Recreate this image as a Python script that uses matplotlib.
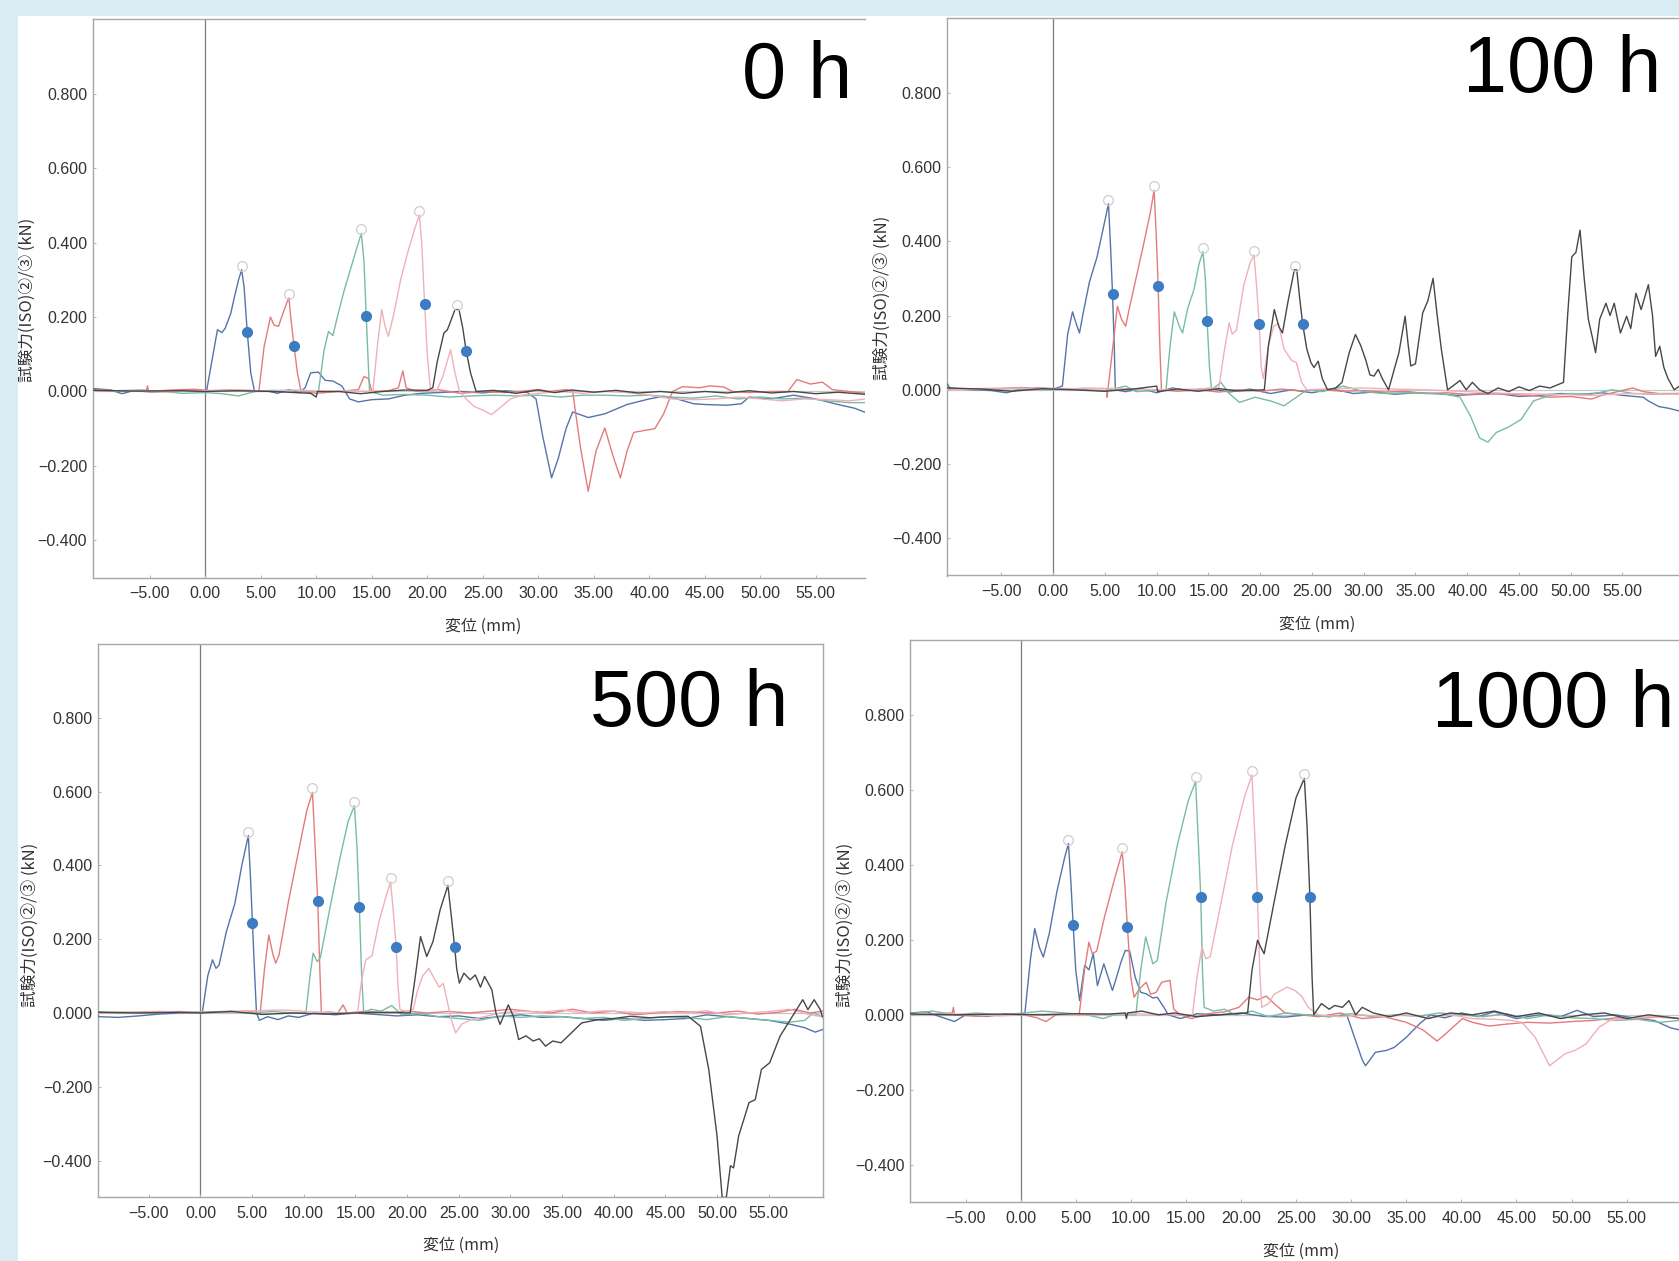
import matplotlib
matplotlib.use("Agg")
import matplotlib.pyplot as plt
import matplotlib.transforms as mtransforms
from matplotlib.patches import Rectangle
from matplotlib.ticker import FuncFormatter

# ---------------- data ----------------
SERIES = ["blue", "red", "green", "pink", "black"]
PANEL_TITLES = ["0 h", "100 h", "500 h", "1000 h"]
X_TICKS = [-5, 0, 5, 10, 15, 20, 25, 30, 35, 40, 45, 50, 55]
Y_TICKS = [-0.4, -0.2, 0.0, 0.2, 0.4, 0.6, 0.8]
X_LABEL = "変位 (mm)"
Y_LABEL = "試験力(ISO)②/③ (kN)"

# ---- 0 h ----
H0_BLUE = [(-10.2,0.008),(-8.5,0.004),(-7.5,-0.006),(-6.5,0.002),(-4.5,-0.002),(-2.5,0.003),(-1,0.0),(0.1,-0.002),
           (1.1,0.166),(1.5,0.158),(1.8,0.17),(2.3,0.21),(2.6,0.25),(3.0,0.3),(3.28,0.327),(3.5,0.28),(3.78,0.161),
           (4.1,0.05),(4.44,0.0),(5.5,0.002),(6.5,-0.005),(7.5,0.005),(8.5,-0.003),(9.0,0.01),(9.5,0.05),(10.2,0.052),
           (10.8,0.03),(11.5,0.028),(12.3,0.015),(13.0,-0.02),(13.8,-0.028),(15.0,-0.022),(16.5,-0.02),(18,-0.01),
           (19.5,-0.005),(21,-0.003),(23,0.0),(25,-0.004),(27,0.002),(29,-0.002),(29.8,-0.02),(30.4,-0.12),
           (31.2,-0.232),(31.8,-0.18),(32.5,-0.1),(33.1,-0.055),(34.5,-0.07),(36,-0.06),(38,-0.035),(40,-0.02),
           (41.3,-0.013),(42.5,-0.02),(44,-0.033),(45,-0.035),(47,-0.037),(48.3,-0.033),(49,-0.015),(51,-0.02),
           (53,-0.01),(55,-0.02),(57,-0.035),(58.5,-0.045),(59.6,-0.058)]
H0_RED = [(-10.2,0.005),(-8,0.002),(-5.3,0.003),(-5.2,0.015),(-5.1,0.0),(-3,0.004),(-1,0.006),(0.5,0.002),(2,0.004),
          (4,0.003),(4.83,0.0),(5.3,0.12),(5.87,0.2),(6.2,0.178),(6.6,0.175),(7.0,0.21),(7.46,0.247),(7.54,0.251),
          (7.7,0.2),(8.0,0.121),(8.3,0.05),(8.63,0.0),(10,-0.005),(12,0.0),(13.8,0.005),(14.3,0.04),(14.7,0.035),
          (15.0,0.0),(16.5,0.002),(17.4,0.01),(17.8,0.055),(18.1,0.01),(19,0.0),(21,0.005),(23,-0.005),(25,0.0),
          (27,-0.003),(29,0.002),(30,0.005),(31,0.0),(32.5,0.005),(33.1,0.0),(33.8,-0.15),(34.5,-0.268),(35.2,-0.16),
          (36.0,-0.098),(36.7,-0.17),(37.4,-0.232),(38.0,-0.16),(38.6,-0.11),(39.5,-0.105),(40.5,-0.1),(41.3,-0.06),
          (42.1,0.0),(43,0.013),(44.5,0.01),(45.5,0.015),(46.7,0.012),(47.5,0.0),(49,-0.003),(51,0.0),(52.5,0.0),
          (53.3,0.032),(54.5,0.02),(55.6,0.025),(56.5,0.005),(58,0.0),(59.6,-0.005)]
H0_GREEN = [(-10.2,0.002),(-8,0.0),(-6,0.004),(-4,0.0),(-2,-0.005),(0,-0.003),(1.5,-0.006),(3,-0.012),(4.5,0.0),
            (6,0.003),(8,0.002),(10.2,0.0),(10.7,0.11),(11.1,0.161),(11.5,0.15),(11.9,0.2),(12.5,0.27),(13.2,0.34),
            (13.7,0.39),(14.06,0.425),(14.3,0.35),(14.5,0.204),(14.65,0.1),(14.8,0.0),(16,-0.01),(18,-0.008),
            (20,-0.01),(22,-0.015),(24,-0.012),(26,-0.01),(28,-0.012),(30,-0.01),(32,-0.015),(34,-0.01),(36,-0.01),
            (38,-0.012),(40,-0.01),(42,-0.015),(44,-0.018),(46,-0.012),(48,-0.02),(50,-0.015),(52,-0.02),
            (54,-0.018),(56,-0.025),(58,-0.03),(59.6,-0.03)]
H0_PINK = [(-10.2,0.0),(-7,0.003),(-4,-0.002),(-1,0.002),(2,0.003),(5,0.0),(8,0.004),(11,0.0),(13,0.002),(15.1,0.0),
           (15.5,0.12),(15.9,0.22),(16.2,0.175),(16.5,0.148),(17.0,0.21),(17.6,0.3),(18.3,0.38),(18.9,0.44),
           (19.29,0.474),(19.5,0.4),(19.76,0.236),(20.0,0.1),(20.3,0.0),(20.9,0.005),(21.4,0.04),(22.1,0.112),
           (22.5,0.05),(22.9,0.0),(23.5,-0.02),(24.2,-0.04),(25.0,-0.05),(25.8,-0.062),(26.5,-0.045),(27.5,-0.02),
           (28.5,-0.01),(30,-0.005),(32,0.0),(34,-0.005),(36,0.0),(38,-0.003),(40,-0.01),(42,-0.02),(44,-0.022),
           (46,-0.02),(48,-0.015),(50,-0.02),(52,-0.025),(54,-0.02),(56,-0.022),(58,-0.025),(59.6,-0.02)]
H0_BLACK = [(-10.2,0.003),(-6,0.001),(-2,0.002),(0,0.0),(3,0.002),(6,0.0),(9.5,-0.005),(10,-0.015),(10.1,0.0),
            (12,0.0),(14,-0.006),(16,0.0),(18,0.004),(20,0.003),(20.5,0.01),(20.9,0.08),(21.5,0.157),(21.8,0.165),
            (22.0,0.18),(22.5,0.22),(22.86,0.22),(23.2,0.17),(23.5,0.11),(23.9,0.05),(24.4,0.0),(26,0.003),
            (28,-0.005),(30,0.004),(31.5,-0.003),(33,0.004),(35,-0.002),(37,0.003),(39,-0.004),(41,0.0),(43,-0.005),
            (45,0.0),(47,-0.004),(49,0.002),(51,-0.004),(53,0.0),(55,-0.006),(57,-0.002),(59.6,-0.008)]
H0_PEAKS = [(3.28,0.327),(7.54,0.251),(14.06,0.425),(19.29,0.474),(22.7,0.222)]
H0_DOTS = [(3.78,0.161),(8.0,0.121),(14.5,0.204),(19.76,0.236),(23.5,0.110)]

# ---- 100 h ----
H100_BLUE = [(-10.2,0.015),(-10.0,0.005),(-8,0.0),(-6,-0.002),(-4.5,-0.008),(-3,0.003),(-1.5,0.006),(0,0.002),
             (0.89,0.01),(1.4,0.15),(1.87,0.21),(2.2,0.18),(2.54,0.153),(2.9,0.207),(3.5,0.29),(4.24,0.358),
             (4.8,0.43),(5.34,0.501),(5.55,0.38),(5.73,0.259),(5.9,0.12),(6.0,0.0),(7,-0.005),(8.5,0.003),(10,-0.008),
             (11.5,0.005),(13,-0.002),(15,0.004),(17,-0.006),(19,0.002),(21,-0.01),(23,0.0),(25,-0.008),(27,0.002),
             (29,-0.01),(31,-0.006),(33,-0.012),(35,-0.008),(37,-0.01),(39,-0.015),(41,-0.012),(43,-0.01),
             (45,-0.018),(47,-0.015),(49,-0.01),(51,-0.012),(53,-0.008),(55,-0.015),(57,-0.02),(57.5,-0.03),
             (58.5,-0.045),(59.5,-0.05),(60.5,-0.057)]
H100_RED = [(-10.2,0.0),(-8,0.003),(-5.2,0.004),(-3,0.006),(-1,0.004),(1,0.002),(3,0.004),(5.2,0.003),(5.2,-0.02),
            (5.7,0.1),(6.2,0.225),(6.6,0.19),(7.0,0.171),(7.4,0.225),(8.0,0.3),(8.8,0.4),(9.4,0.48),(9.75,0.537),
            (9.95,0.42),(10.14,0.28),(10.3,0.12),(10.46,0.0),(12,-0.004),(14,0.0),(16,-0.006),(18,0.0),(20,-0.004),
            (22,0.002),(24,-0.003),(26,0.0),(28,-0.004),(30,-0.002),(32,-0.006),(34,-0.004),(36,-0.01),(38,-0.008),
            (40,-0.012),(42,-0.01),(44,-0.012),(46,-0.015),(48,-0.02),(50,-0.018),(52,-0.025),(53,-0.015),
            (54.5,-0.005),(56,0.005),(57,-0.005),(58.5,-0.01),(60.5,-0.01)]
H100_GREEN = [(-10.2,0.002),(-7,0.0),(-4,0.003),(-1,0.0),(2,0.002),(5,-0.003),(7,0.01),(8,-0.005),(10.9,0.0),
              (11.3,0.12),(11.7,0.21),(12.2,0.17),(12.5,0.153),(13.0,0.22),(13.6,0.27),(14.1,0.34),(14.47,0.372),
              (14.7,0.3),(14.87,0.186),(15.1,0.06),(15.3,0.0),(16.2,0.02),(17,-0.01),(18,-0.034),(19.5,-0.02),
              (21,-0.03),(22.3,-0.043),(23.5,-0.02),(24.5,0.0),(26,-0.005),(28,0.01),(30,-0.005),(32,-0.01),
              (34,-0.008),(36,-0.01),(38,-0.012),(39.3,-0.02),(40.3,-0.07),(41.2,-0.13),(42.0,-0.141),(42.8,-0.115),
              (44,-0.1),(45.2,-0.08),(46.4,-0.03),(48,-0.015),(50,-0.01),(52,-0.012),(54,0.0),(56,-0.01),
              (58,-0.012),(60.5,-0.01)]
H100_PINK = [(-10.2,0.0),(-6,0.002),(-2,0.005),(2,0.003),(6,0.004),(10,0.0),(14,0.002),(16.0,0.005),(16.5,0.1),
             (17.0,0.18),(17.3,0.15),(17.7,0.16),(18.4,0.28),(19.0,0.34),(19.4,0.363),(19.65,0.28),(19.9,0.178),
             (20.1,0.06),(20.3,0.03),(20.8,0.12),(21.3,0.17),(21.76,0.18),(22.3,0.11),(23.0,0.08),(23.5,0.073),
             (24.0,0.02),(24.5,0.0),(27,0.003),(30,0.005),(33,0.002),(36,0.0),(40,-0.005),(44,-0.01),(48,-0.012),
             (52,-0.015),(56,-0.01),(60.5,-0.012)]
H100_BLACK = [(-10.2,0.005),(-7,0.002),(-4,-0.004),(-1,0.003),(2,0.0),(5,-0.004),(8,0.003),(10,0.01),(10.1,-0.005),
              (12,0.002),(14,-0.004),(16,0.003),(18,-0.003),(20.4,0.0),(20.8,0.12),(21.36,0.216),(21.8,0.17),
              (22.15,0.153),(22.7,0.24),(23.3,0.323),(23.53,0.323),(23.8,0.25),(24.1,0.178),(24.5,0.11),(24.9,0.073),
              (25.2,0.06),(25.6,0.077),(26.0,0.03),(26.5,0.0),(27.3,0.005),(27.9,0.02),(28.6,0.1),(29.2,0.149),
              (29.7,0.12),(30.2,0.08),(30.6,0.04),(31.0,0.037),(31.4,0.055),(31.8,0.03),(32.4,0.0),(33.0,0.06),
              (33.4,0.1),(34.0,0.198),(34.3,0.12),(34.55,0.064),(35.0,0.07),(35.7,0.207),(36.2,0.24),(36.7,0.3),
              (37.1,0.2),(37.5,0.109),(38.1,0.0),(38.6,0.01),(39.3,0.025),(39.9,0.0),(40.5,0.02),(41.2,0.0),
              (42,-0.01),(43,0.005),(44,-0.005),(45,0.008),(46,-0.002),(47,0.01),(48,0.005),(49.3,0.02),(49.7,0.2),
              (50.1,0.358),(50.5,0.37),(50.9,0.43),(51.3,0.3),(51.7,0.19),(52.1,0.14),(52.4,0.1),(52.8,0.19),
              (53.4,0.233),(53.8,0.2),(54.2,0.233),(54.8,0.153),(55.4,0.198),(55.8,0.165),(56.3,0.26),(56.8,0.216),
              (57.5,0.283),(57.9,0.2),(58.2,0.09),(58.6,0.117),(59.0,0.06),(59.4,0.03),(60,0.0),(60.5,0.01)]
H100_PEAKS = [(5.34,0.501),(9.75,0.537),(14.47,0.372),(19.4,0.363),(23.4,0.323)]
H100_DOTS = [(5.73,0.259),(10.14,0.280),(14.87,0.186),(19.9,0.178),(24.1,0.178)]

# ---- 500 h ----
H500_BLUE = [(-10,0.01),(-9.9,-0.01),(-8,-0.012),(-6,-0.008),(-4,-0.003),(-2,0.0),(0,0.002),(0.17,0.0),(0.7,0.1),
             (1.16,0.144),(1.5,0.121),(1.8,0.13),(2.5,0.22),(3.33,0.297),(4.0,0.4),(4.63,0.481),(4.85,0.36),
             (5.03,0.243),(5.25,0.1),(5.42,0.0),(5.7,-0.02),(6.5,-0.01),(7.5,-0.018),(8.5,-0.008),(9.5,-0.012),
             (11,0.0),(13,-0.005),(15,0.0),(17,-0.004),(19,-0.008),(21,-0.005),(23,-0.01),(25,-0.008),(27,-0.015),
             (29,-0.01),(31,-0.005),(33,-0.012),(35,-0.01),(37,-0.015),(39,-0.02),(41,-0.015),(43,-0.02),
             (45,-0.018),(47,-0.015),(49,-0.005),(51,-0.01),(53,-0.015),(55,-0.02),(57,-0.03),(58.5,-0.04),
             (59.5,-0.052),(60.2,-0.045)]
H500_RED = [(-10,0.0),(-7,0.002),(-4,0.004),(-1,0.002),(2,0.003),(4.5,0.005),(5.78,0.0),(6.2,0.12),(6.61,0.211),
            (7.0,0.16),(7.28,0.135),(7.6,0.157),(8.5,0.3),(9.5,0.44),(10.3,0.55),(10.84,0.598),(11.1,0.45),
            (11.35,0.303),(11.55,0.12),(11.7,0.0),(12.5,0.003),(13.3,0.0),(13.8,0.022),(14.2,0.0),(16,0.005),
            (18,0.0),(20,0.005),(22,0.0),(24,0.004),(26,0.0),(28,0.005),(30,0.01),(32,0.004),(34,0.0),(36,0.01),
            (38,0.0),(40,0.005),(42,-0.005),(44,0.0),(46,0.004),(48,0.002),(50,0.0),(52,0.005),(54,-0.003),
            (56,0.002),(57.5,0.01),(59,0.0),(60.2,0.005)]
H500_GREEN = [(-10,0.003),(-6,0.0),(-2,0.002),(1,0.003),(3,0.005),(5,0.0),(7,0.004),(9,0.0),(10.2,0.0),(10.6,0.1),
              (10.9,0.162),(11.3,0.139),(11.6,0.15),(12.5,0.28),(13.5,0.42),(14.3,0.52),(14.9,0.562),(15.15,0.45),
              (15.38,0.286),(15.6,0.1),(15.8,0.0),(16.5,0.01),(17.5,0.005),(18.5,0.02),(19.5,-0.005),(21,0.0),
              (23,-0.01),(25,-0.015),(27,-0.02),(29,-0.008),(31,-0.012),(33,-0.008),(35,-0.01),(37,-0.015),
              (39,-0.012),(41,-0.02),(43,-0.015),(45,-0.01),(47,-0.012),(49,-0.018),(51,-0.01),(53,-0.015),
              (55,-0.02),(57,-0.025),(58.5,-0.02),(59.3,0.0),(60.2,-0.01)]
H500_PINK = [(-10,0.0),(-6,0.002),(-2,0.004),(2,0.0),(5,0.006),(8,0.008),(11,0.003),(14,0.0),(15.2,0.0),(15.6,0.09),
             (16.0,0.144),(16.6,0.155),(17.3,0.25),(18.0,0.32),(18.4,0.355),(18.65,0.28),(18.94,0.18),(19.1,0.08),
             (19.3,0.01),(20,0.003),(20.6,0.01),(21.0,0.06),(21.5,0.1),(22.1,0.121),(22.6,0.095),(23.1,0.07),
             (23.5,0.08),(23.9,0.03),(24.3,-0.02),(24.7,-0.054),(25.3,-0.03),(26.2,-0.018),(27.5,-0.01),(29,0.0),
             (31,0.005),(33,0.002),(35,0.008),(37,0.0),(39,0.006),(41,0.003),(43,0.0),(45,0.004),(47,0.0),
             (49,0.006),(51,-0.005),(53,0.0),(55,0.004),(57,0.01),(59,-0.005),(60.2,-0.01)]
H500_BLACK = [(-10,0.002),(-6,0.0),(-2,0.002),(0,0.0),(3,0.004),(6,-0.004),(9,0.0),(12,-0.003),(15,0.0),(18,0.002),
              (20.3,0.0),(20.8,0.1),(21.3,0.207),(21.6,0.18),(21.9,0.153),(22.5,0.193),(23.2,0.28),(23.95,0.346),
              (24.25,0.27),(24.6,0.18),(24.8,0.12),(25.06,0.081),(25.5,0.108),(26.1,0.09),(26.6,0.103),(27.1,0.07),
              (27.5,0.099),(28.2,0.063),(28.6,0.0),(29.0,-0.031),(29.8,0.022),(30.3,-0.01),(30.8,-0.072),
              (31.5,-0.062),(32.2,-0.076),(32.8,-0.07),(33.4,-0.09),(34.1,-0.076),(34.9,-0.081),(35.9,-0.054),
              (36.9,-0.027),(38.5,-0.018),(40,-0.015),(41.6,-0.009),(43.5,-0.013),(45.5,-0.01),(47.2,-0.009),
              (48.4,-0.036),(49.2,-0.153),(50.0,-0.333),(50.5,-0.5),(50.9,-0.5),(51.3,-0.414),(51.6,-0.42),
              (52.1,-0.333),(53.1,-0.243),(53.7,-0.235),(54.3,-0.153),(55.1,-0.135),(56.1,-0.063),(57.1,-0.018),
              (58.3,0.036),(58.8,0.009),(59.4,0.036),(60.0,0.009),(60.2,-0.01)]
H500_PEAKS = [(4.63,0.481),(10.84,0.598),(14.9,0.562),(18.4,0.355),(23.95,0.346)]
H500_DOTS = [(5.03,0.243),(11.35,0.303),(15.38,0.286),(18.94,0.180),(24.6,0.180)]

# ---- 1000 h ----
H1000_BLUE = [(-10,0.005),(-8.5,0.008),(-7.5,-0.003),(-6,-0.018),(-5,0.0),(-3,-0.004),(-1.5,0.002),(0,0.0),
              (0.39,0.005),(0.9,0.15),(1.28,0.23),(1.7,0.18),(2.06,0.154),(2.6,0.217),(3.3,0.33),(4.0,0.42),
              (4.34,0.457),(4.55,0.36),(4.77,0.239),(5.0,0.12),(5.35,0.038),(5.81,0.132),(6.2,0.12),(6.59,0.163),
              (6.97,0.078),(7.55,0.136),(7.95,0.1),(8.33,0.065),(8.7,0.1),(9.1,0.14),(9.5,0.172),(9.9,0.17),
              (10.4,0.1),(10.9,0.06),(11.4,0.056),(12.0,0.045),(12.4,0.047),(13.0,0.02),(13.4,0.0),(14.5,-0.01),
              (16,0.003),(18,0.0),(20,0.005),(22,-0.004),(24,-0.006),(26,0.0),(28,-0.005),(29.6,0.0),(30.3,-0.06),
              (31.0,-0.12),(31.3,-0.136),(32.2,-0.1),(33.2,-0.095),(33.9,-0.087),(35.0,-0.06),(36.2,-0.024),
              (37.2,0.0),(38.5,-0.008),(40,0.005),(41.5,-0.005),(43,0.008),(45,-0.01),(47,0.0),(49,-0.005),
              (50.5,0.012),(52,-0.005),(54,0.0),(56,-0.01),(57.5,-0.015),(59,-0.035),(59.75,-0.04)]
H1000_RED = [(-10,0.0),(-8,0.002),(-6.2,0.005),(-6.1,0.02),(-6.0,0.0),(-4,-0.004),(-2,0.0),(0,0.002),(1.5,-0.008),
             (2.3,-0.018),(3.2,0.0),(4.5,0.003),(5.31,0.0),(5.8,0.12),(6.2,0.194),(6.5,0.163),(6.9,0.17),
             (7.6,0.26),(8.5,0.36),(9.22,0.435),(9.45,0.35),(9.69,0.235),(10.0,0.1),(10.3,0.047),(10.8,0.07),
             (11.4,0.087),(11.8,0.055),(12.3,0.06),(12.8,0.087),(13.55,0.092),(13.9,0.015),(14.5,0.0),(15.5,-0.01),
             (17,0.003),(18.5,0.008),(19.8,0.02),(20.7,0.047),(21.5,0.04),(22.3,0.05),(23,0.03),(24,0.005),
             (25.5,0.0),(27,-0.005),(29,0.005),(31,-0.01),(33,-0.005),(35,-0.02),(36.5,-0.04),(37.8,-0.07),
             (38.6,-0.05),(40.1,-0.01),(41,-0.02),(42.5,-0.03),(44,-0.025),(46,-0.02),(48,-0.022),(50,-0.018),
             (52,-0.015),(54,-0.008),(56,-0.01),(58,-0.005),(59.75,-0.01)]
H1000_GREEN = [(-10,0.003),(-8,0.01),(-6,0.0),(-4,0.005),(-2,0.0),(0,0.004),(2,0.01),(4,0.005),(6,0.0),(7.5,-0.01),
               (8.5,0.0),(10.46,0.0),(10.9,0.12),(11.35,0.208),(11.7,0.17),(12.0,0.136),(12.4,0.145),(13.2,0.3),
               (14.2,0.45),(15.2,0.57),(15.88,0.623),(16.1,0.48),(16.35,0.315),(16.5,0.12),(16.65,0.02),(17.5,0.01),
               (18.5,0.015),(19.5,0.0),(21,0.01),(22.5,-0.005),(24,0.005),(26,0.0),(28,-0.005),(30,0.003),
               (32,-0.005),(34,0.0),(36,-0.004),(38,0.005),(40,0.0),(42,-0.005),(44,0.003),(46,-0.01),(48,0.0),
               (50,-0.008),(52,-0.01),(54,-0.015),(56,-0.012),(58,-0.02),(59.75,-0.015)]
H1000_PINK = [(-10,0.0),(-6,0.002),(-2,-0.003),(2,0.002),(6,0.0),(10,0.003),(14,0.0),(15.6,0.0),(16.0,0.1),
              (16.46,0.181),(16.8,0.15),(17.2,0.155),(18.2,0.3),(19.2,0.45),(20.3,0.58),(20.99,0.64),(21.25,0.48),
              (21.49,0.315),(21.7,0.12),(21.88,0.02),(22.5,0.03),(23.0,0.055),(24.2,0.074),(24.9,0.065),(25.5,0.05),
              (26.1,0.02),(27,0.0),(29,-0.005),(31,0.0),(33,-0.005),(35,0.0),(37,-0.008),(39,0.0),(41,-0.01),
              (43,-0.012),(44.5,-0.015),(45.5,-0.02),(46.7,-0.06),(48.0,-0.136),(48.7,-0.12),(49.4,-0.104),
              (50.3,-0.095),(51.3,-0.078),(52.5,-0.033),(53.5,-0.015),(55,-0.01),(57,-0.005),(59.75,-0.01)]
H1000_BLACK = [(-10,0.002),(-6,0.0),(-2,0.002),(2,0.0),(5,0.003),(8,0.002),(9.5,0.005),(9.6,-0.01),(9.7,0.005),
               (11,0.01),(12.5,0.0),(14,0.005),(16,-0.005),(18,0.0),(20.6,0.005),(21.0,0.12),(21.5,0.199),
               (21.8,0.18),(22.1,0.163),(23.0,0.3),(24.0,0.45),(25.0,0.58),(25.75,0.631),(26.0,0.5),(26.25,0.315),
               (26.45,0.1),(26.6,0.0),(27.3,0.03),(28.0,0.015),(28.5,0.025),(29.2,0.02),(29.8,0.038),(30.4,0.0),
               (31,0.02),(32,0.005),(33.5,-0.005),(35,0.005),(37,-0.01),(39,0.005),(41,0.0),(43,0.01),(45,-0.005),
               (47,0.005),(49,-0.01),(51,0.0),(53,0.005),(55,-0.01),(57,0.0),(59.75,-0.01)]
H1000_PEAKS = [(4.34,0.457),(9.22,0.435),(15.88,0.623),(20.99,0.640),(25.75,0.631)]
H1000_DOTS = [(4.77,0.239),(9.69,0.235),(16.35,0.315),(21.49,0.315),(26.25,0.315)]

PANEL_CURVES = [
    [H0_BLUE, H0_RED, H0_GREEN, H0_PINK, H0_BLACK],
    [H100_BLUE, H100_RED, H100_GREEN, H100_PINK, H100_BLACK],
    [H500_BLUE, H500_RED, H500_GREEN, H500_PINK, H500_BLACK],
    [H1000_BLUE, H1000_RED, H1000_GREEN, H1000_PINK, H1000_BLACK],
]
PANEL_PEAKS = [H0_PEAKS, H100_PEAKS, H500_PEAKS, H1000_PEAKS]
PANEL_DOTS = [H0_DOTS, H100_DOTS, H500_DOTS, H1000_DOTS]

# ---------------- layout / style ----------------
W, H = 1679, 1261
COLORS = {"blue": "#5574aa", "red": "#e47b7b", "green": "#78bca3",
          "pink": "#f0b0ba", "black": "#474747"}
DOT_COLOR = "#3b7cc2"
BAND_COLOR = "#d9ecf4"
TICK_FONT = "Liberation Sans"
CJK = ["Noto Sans CJK JP", "DejaVu Sans"]

# pixel layout per panel: axes (left, right, top, bottom), xlim, ylabel center, xlabel center, title (right, baseline)
LAYOUT = [
    dict(rect=(92.7, 864.6, 19.2, 577.6), xlim=(-10.14, 59.4), ylab=(27.7, 300), xlab=(483, 626.5),
         title=(852, 98), right_spine=False),
    dict(rect=(947.2, 1679, 18.4, 575.5), xlim=(-10.24, 60.46), ylab=(882, 298), xlab=(1317, 624.5),
         title=(1661, 91.8), right_spine=False),
    dict(rect=(97.6, 822.8, 644.1, 1197.4), xlim=(-9.96, 60.24), ylab=(29.8, 925), xlab=(460.7, 1245.7),
         title=(788.6, 725.8), right_spine=True),
    dict(rect=(910.1, 1679, 640.1, 1202.2), xlim=(-10.03, 59.75), ylab=(845.2, 925), xlab=(1301, 1251.7),
         title=(1674.6, 726.6), right_spine=False),
]

fig = plt.figure(figsize=(W / 100, H / 100), dpi=100, facecolor="white")
fig.patches.append(Rectangle((0, 1 - 16 / H), 1, 16 / H, transform=fig.transFigure,
                             facecolor=BAND_COLOR, edgecolor="none", zorder=0))
fig.patches.append(Rectangle((0, 0), 18 / W, 1, transform=fig.transFigure,
                             facecolor=BAND_COLOR, edgecolor="none", zorder=0))

xfmt = FuncFormatter(lambda v, p: f"{v:.2f}".replace("-", "\u2212"))
yfmt = FuncFormatter(lambda v, p: f"{v:.3f}".replace("-", "\u2212"))
up_shift = mtransforms.ScaledTranslation(0, 4 / 100, fig.dpi_scale_trans)

for i, lay in enumerate(LAYOUT):
    l, r, t, b = lay["rect"]
    ax = fig.add_axes([l / W, 1 - b / H, (r - l) / W, (b - t) / H])
    ax.set_facecolor("white")
    ax.set_xlim(*lay["xlim"])
    ax.set_ylim(-0.5, 1.0)

    ax.axvline(0, color="#7a7a7a", lw=0.9, zorder=1)
    ax.axhline(0, color="#c9c9c9", lw=0.9, zorder=1)

    for name, pts in zip(SERIES, PANEL_CURVES[i]):
        xs = [p[0] for p in pts]
        ys = [p[1] for p in pts]
        ax.plot(xs, ys, color=COLORS[name], lw=1.0, zorder=3, solid_joinstyle="round")

    px = [p[0] for p in PANEL_PEAKS[i]]
    py = [p[1] for p in PANEL_PEAKS[i]]
    ax.plot(px, py, linestyle="none", marker="o", ms=7, mfc="none", mec="#cfcfcf", mew=0.9,
            transform=ax.transData + up_shift, zorder=4)
    dx = [p[0] for p in PANEL_DOTS[i]]
    dy = [p[1] for p in PANEL_DOTS[i]]
    ax.plot(dx, dy, linestyle="none", marker="o", ms=7, color=DOT_COLOR, zorder=5)

    ax.set_xticks(X_TICKS)
    ax.set_yticks(Y_TICKS)
    ax.xaxis.set_major_formatter(xfmt)
    ax.yaxis.set_major_formatter(yfmt)
    ax.tick_params(axis="both", direction="in", length=2.5, width=0.7, color="#b5b5b5",
                   labelsize=11.5, labelcolor="#333333")
    ax.tick_params(axis="y", pad=4)
    ax.tick_params(axis="x", pad=6)
    for lab in ax.get_xticklabels() + ax.get_yticklabels():
        lab.set_fontfamily(TICK_FONT)

    for side in ("left", "bottom", "top", "right"):
        ax.spines[side].set_color("#a8a8a8")
        ax.spines[side].set_linewidth(1.0)
    ax.spines["right"].set_visible(lay["right_spine"])

    ax.set_ylabel(Y_LABEL, fontsize=12, color="#333333", family=CJK)
    ax.yaxis.label.set_va("center")
    yx, yy = lay["ylab"]
    ax.yaxis.set_label_coords((yx - l) / (r - l), 1 - (yy - t) / (b - t))

    ax.set_xlabel(X_LABEL, fontsize=11.5, color="#333333", family=CJK)
    ax.xaxis.label.set_va("center")
    xx, xy = lay["xlab"]
    ax.xaxis.set_label_coords((xx - l) / (r - l), 1 - (xy - t) / (b - t))

    tx, ty = lay["title"]
    fig.text(tx / W, 1 - ty / H, PANEL_TITLES[i], ha="right", va="baseline",
             fontsize=57, family="Liberation Sans", color="black", zorder=10)

fig.savefig("out.png", dpi=100, facecolor="white")
